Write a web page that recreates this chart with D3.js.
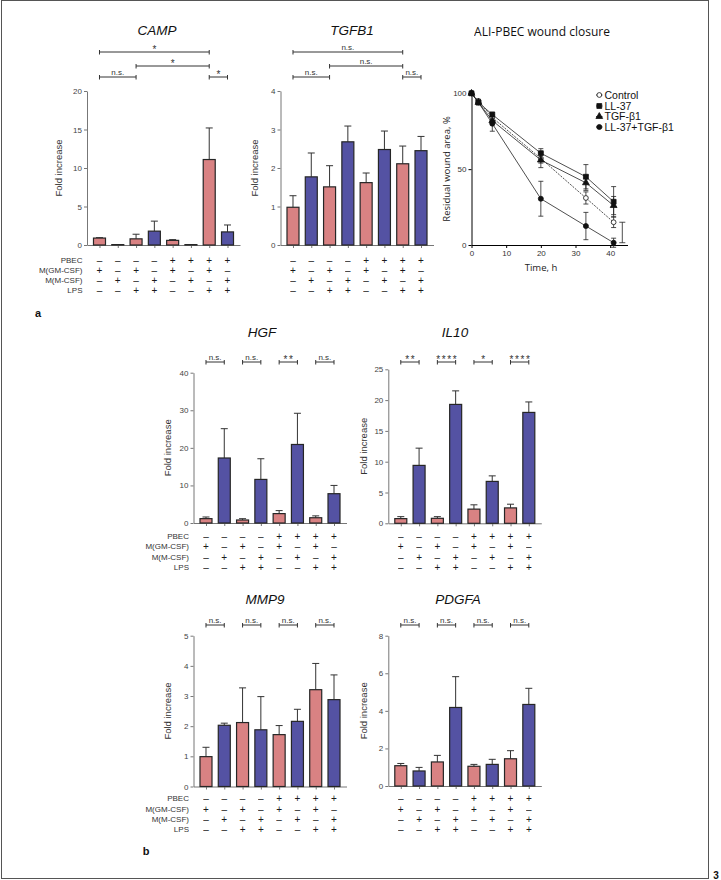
<!DOCTYPE html>
<html>
<head>
<meta charset="utf-8">
<script src="https://cdn.jsdelivr.net/npm/d3@7/dist/d3.min.js"></script>
<style>
html,body{margin:0;padding:0;background:#fff;}
svg{display:block;}
svg text{opacity:0.999;}
</style>
</head>
<body>
<svg id="fig" width="721" height="880"></svg>
<script>
// ---------------- data ----------------
const rowLabels = ["PBEC", "M(GM-CSF)", "M(M-CSF)", "LPS"];
const signPBEC = ["–","–","–","–","+","+","+","+"];
const signGM   = ["+","–","+","–","+","–","+","–"];
const signM    = ["–","+","–","+","–","+","–","+"];
const signLPS  = ["–","–","+","+","–","–","+","+"];
const macrophage = ["GM","M","GM","M","GM","M","GM","M"];

const campMean  = [0.9, 0.05, 0.8, 1.8, 0.6, 0.05, 11.1, 1.7];
const campSD    = [0.05, 0, 0.6, 1.3, 0.1, 0, 4.1, 0.9];
const tgfb1Mean = [0.98, 1.77, 1.51, 2.68, 1.62, 2.48, 2.11, 2.45];
const tgfb1SD   = [0.3, 0.62, 0.55, 0.41, 0.25, 0.48, 0.46, 0.37];
const hgfMean   = [1.16, 17.3, 0.8, 11.6, 2.5, 20.9, 1.4, 7.8];
const hgfSD     = [0.44, 7.8, 0.35, 5.5, 0.8, 8.3, 0.5, 2.2];
const il10Mean  = [0.76, 9.4, 0.81, 19.3, 2.3, 6.8, 2.5, 18.0];
const il10SD    = [0.32, 2.8, 0.27, 2.2, 0.7, 0.9, 0.6, 1.7];
const mmp9Mean  = [0.99, 2.03, 2.12, 1.88, 1.72, 2.16, 3.21, 2.88];
const mmp9SD    = [0.31, 0.07, 1.15, 1.1, 0.3, 0.4, 0.87, 0.82];
const pdgfaMean = [1.08, 0.8, 1.28, 4.18, 1.05, 1.15, 1.45, 4.34];
const pdgfaSD   = [0.12, 0.19, 0.35, 1.64, 0.1, 0.27, 0.43, 0.86];

const campTicks  = [0, 5, 10, 15, 20];
const tgfb1Ticks = [0, 1, 2, 3, 4];
const hgfTicks   = [0, 10, 20, 30, 40];
const il10Ticks  = [0, 5, 10, 15, 20, 25];
const mmp9Ticks  = [0, 1, 2, 3, 4, 5];
const pdgfaTicks = [0, 2, 4, 6, 8];

// significance: [from, to, level]
const sigPairsA = [[0, 6, 0], [2, 6, 1], [0, 2, 2], [6, 7, 2]];
const campSig   = ["*", "*", "n.s.", "*"];
const tgfb1Sig  = ["n.s.", "n.s.", "n.s.", "n.s."];
const sigPairsB = [[0, 1, 0], [2, 3, 0], [4, 5, 0], [6, 7, 0]];
const hgfSig    = ["n.s.", "n.s.", "**", "n.s."];
const il10Sig   = ["**", "****", "*", "****"];
const mmp9Sig   = ["n.s.", "n.s.", "n.s.", "n.s."];
const pdgfaSig  = ["n.s.", "n.s.", "n.s.", "n.s."];

// wound closure
const hours     = [0, 2, 6, 20, 33, 41];
const ctrlMean  = [100, 95, 84, 57, 31, 15];
const ctrlSD    = [0, 1, 2, 3, 4, 3.5];
const ll37Mean  = [100, 94, 86, 60.5, 45, 28.5];
const ll37SD    = [0, 1, 1.5, 3, 8, 10];
const tgfMean   = [100, 94, 82, 56, 41, 26];
const tgfSD     = [0, 1.5, 2, 5, 5, 6];
const comboMean = [100, 94, 80, 30.5, 12.5, 1.5];
const comboSD   = [0, 1.5, 5, 11.5, 9, 3];
const looseBar  = [43.5, 1.5, 15]; // time, low, high
const timeTicks  = [0, 10, 20, 30, 40];
const woundTicks = [0, 50, 100];
const seriesNames = ["Control", "LL-37", "TGF-β1", "LL-37+TGF-β1"];

// ---------------- drawing ----------------
const PINK = "#d98283", BLUE = "#5452a3";
const SANS = "'Liberation Sans', Arial, sans-serif";
const HUM = "'Open Sans', 'Noto Sans', sans-serif";
const svg = d3.select("#fig");

// frame
svg.append("rect").attr("x", 1.5).attr("y", 0.5).attr("width", 707).attr("height", 878)
  .attr("fill", "none").attr("stroke", "#555").attr("stroke-width", 1);
svg.append("text").attr("x", 716).attr("y", 879).attr("text-anchor", "middle")
  .attr("font-family", SANS).attr("font-weight", "bold").attr("font-size", 10).attr("fill", "#111").text("3");
svg.append("text").attr("x", 38).attr("y", 317).attr("text-anchor", "middle")
  .attr("font-family", SANS).attr("font-weight", "bold").attr("font-size", 11).attr("fill", "#111").text("a");
svg.append("text").attr("x", 146).attr("y", 855).attr("text-anchor", "middle")
  .attr("font-family", SANS).attr("font-weight", "bold").attr("font-size", 11).attr("fill", "#111").text("b");

function barPanel(o) {
  const g = svg.append("g");
  const idx = d3.range(o.means.length);
  const x = d3.scalePoint().domain(idx).range([o.axisX, o.axisX + 153]).padding(0.683);
  const y = d3.scaleLinear().domain([0, o.ymax]).range([o.y0, o.yTop]);

  // title
  g.append("text").attr("x", o.titleX).attr("y", o.titleY).attr("text-anchor", "middle")
    .attr("font-family", SANS).attr("font-style", "italic").attr("font-size", 13.5).attr("fill", "#111")
    .text(o.title);

  // y label
  g.append("text").attr("transform", `translate(${o.ylabX},${(o.y0 + o.yTop) / 2}) rotate(-90)`)
    .attr("text-anchor", "middle").attr("dy", "0.35em")
    .attr("font-family", SANS).attr("font-size", 9.5).attr("fill", "#333").text("Fold increase");

  // axes
  const ya = g.append("g").attr("transform", `translate(${o.axisX},0)`)
    .call(d3.axisLeft(y).tickValues(o.ticks).tickFormat(d3.format("d")).tickSize(3).tickSizeOuter(0).tickPadding(2));
  ya.attr("font-family", SANS).attr("font-size", 8);
  ya.select(".domain").attr("stroke", "#777");
  ya.selectAll(".tick line").attr("stroke", "#777");
  ya.selectAll(".tick text").attr("fill", "#444");

  const xa = g.append("g").attr("transform", `translate(0,${o.y0})`)
    .call(d3.axisBottom(x).tickSize(3).tickSizeOuter(0).tickFormat(""));
  xa.select(".domain").attr("stroke", "#777");
  xa.selectAll(".tick line").attr("stroke", "#777");

  // error bars
  const eb = g.append("g").attr("stroke", "#333").attr("stroke-width", 1);
  idx.forEach(i => {
    if (o.sds[i] <= 0) return;
    const yt = y(o.means[i] + o.sds[i]);
    eb.append("line").attr("x1", x(i)).attr("x2", x(i)).attr("y1", y(o.means[i])).attr("y2", yt);
    eb.append("line").attr("x1", x(i) - 3.5).attr("x2", x(i) + 3.5).attr("y1", yt).attr("y2", yt);
  });

  // bars
  g.append("g").selectAll("rect").data(o.means).join("rect")
    .attr("x", (d, i) => x(i) - 6).attr("width", 12)
    .attr("y", d => y(d)).attr("height", d => o.y0 - y(d))
    .attr("fill", (d, i) => macrophage[i] === "GM" ? PINK : BLUE)
    .attr("stroke", "#262626").attr("stroke-width", 1.2);

  // significance brackets
  const sg = g.append("g");
  o.sigPairs.forEach((p, k) => {
    const yy = o.sigY[p[2]];
    const x1 = x(p[0]), x2 = x(p[1]);
    sg.append("path").attr("d", `M${x1},${yy - 2}V${yy + 2.5}M${x1},${yy}H${x2}M${x2},${yy - 2}V${yy + 2.5}`)
      .attr("fill", "none").attr("stroke", "#333").attr("stroke-width", 1);
    const lab = o.sig[k];
    const star = lab.indexOf("*") >= 0;
    sg.append("text").attr("x", (x1 + x2) / 2 + (star ? 0.8 : 0)).attr("y", star ? yy + 0.5 : yy - 2.2)
      .attr("text-anchor", "middle").attr("font-family", SANS)
      .attr("font-size", star ? 10 : 8).attr("letter-spacing", star ? 1.6 : 0).attr("fill", "#333").text(lab);
  });

  // condition signs
  const rows = [signPBEC, signGM, signM, signLPS];
  rows.forEach((r, ri) => {
    const yy = o.rowY[ri];
    g.append("g").selectAll("text").data(r).join("text")
      .attr("x", (d, i) => x(i)).attr("y", yy).attr("dy", "0.35em").attr("text-anchor", "middle")
      .attr("font-family", SANS).attr("font-size", 10).attr("fill", "#1a1a1a").text(d => d);
    if (o.rowLabels) {
      g.append("text").attr("x", x(0) - 17).attr("y", yy).attr("dy", "0.35em").attr("text-anchor", "end")
        .attr("font-family", SANS).attr("font-size", 8).attr("fill", "#333").text(rowLabels[ri]);
    }
  });
}

const rowA = [260, 270.5, 280.5, 290.5];
const rowB1 = [536, 546.5, 557, 567];
const rowB2 = [798.5, 809, 819, 829];

barPanel({ title: "CAMP", titleX: 157, titleY: 35, axisX: 87, y0: 245, yTop: 91, ymax: 20, ticks: campTicks,
  means: campMean, sds: campSD, sigPairs: sigPairsA, sig: campSig, sigY: [52, 66, 77], rowY: rowA, rowLabels: true, ylabX: 59 });
barPanel({ title: "TGFB1", titleX: 352, titleY: 35, axisX: 280.5, y0: 245, yTop: 91, ymax: 4, ticks: tgfb1Ticks,
  means: tgfb1Mean, sds: tgfb1SD, sigPairs: sigPairsA, sig: tgfb1Sig, sigY: [52, 66, 77], rowY: rowA, rowLabels: false, ylabX: 255 });
barPanel({ title: "HGF", titleX: 262, titleY: 337, axisX: 193.5, y0: 523, yTop: 372.7, ymax: 40, ticks: hgfTicks,
  means: hgfMean, sds: hgfSD, sigPairs: sigPairsB, sig: hgfSig, sigY: [362], rowY: rowB1, rowLabels: true, ylabX: 168 });
barPanel({ title: "IL10", titleX: 455, titleY: 337, axisX: 388.3, y0: 523.3, yTop: 369.3, ymax: 25, ticks: il10Ticks,
  means: il10Mean, sds: il10SD, sigPairs: sigPairsB, sig: il10Sig, sigY: [362], rowY: rowB1, rowLabels: false, ylabX: 364 });
barPanel({ title: "MMP9", titleX: 265, titleY: 604, axisX: 193.5, y0: 786.5, yTop: 635.7, ymax: 5, ticks: mmp9Ticks,
  means: mmp9Mean, sds: mmp9SD, sigPairs: sigPairsB, sig: mmp9Sig, sigY: [625], rowY: rowB2, rowLabels: true, ylabX: 168 });
barPanel({ title: "PDGFA", titleX: 458, titleY: 604, axisX: 388.3, y0: 786, yTop: 635.7, ymax: 8, ticks: pdgfaTicks,
  means: pdgfaMean, sds: pdgfaSD, sigPairs: sigPairsB, sig: pdgfaSig, sigY: [625], rowY: rowB2, rowLabels: false, ylabX: 364 });

// ---------------- wound closure line chart ----------------
(function () {
  const g = svg.append("g");
  const x = d3.scaleLinear().domain([0, 45]).range([471.5, 627.5]);
  const y = d3.scaleLinear().domain([0, 100]).range([245, 93.3]);

  g.append("text").attr("x", 542).attr("y", 36).attr("text-anchor", "middle")
    .attr("font-family", HUM).attr("font-size", 12).attr("fill", "#111").text("ALI-PBEC wound closure");
  g.append("text").attr("transform", `translate(447,169) rotate(-90)`).attr("text-anchor", "middle").attr("dy", "0.35em")
    .attr("font-family", HUM).attr("font-size", 9.5).attr("fill", "#222").text("Residual wound area, %");
  g.append("text").attr("x", 541).attr("y", 270.5).attr("text-anchor", "middle")
    .attr("font-family", HUM).attr("font-size", 9.5).attr("fill", "#222").text("Time, h");

  const ya = g.append("g").attr("transform", `translate(${x(0)},0)`)
    .call(d3.axisLeft(y).tickValues(woundTicks).tickSize(3).tickSizeOuter(0).tickPadding(2));
  ya.attr("font-family", SANS).attr("font-size", 8);
  ya.selectAll(".tick text").attr("fill", "#333");
  const xa = g.append("g").attr("transform", `translate(0,${y(0)})`)
    .call(d3.axisBottom(x).tickValues(timeTicks).tickSize(3).tickSizeOuter(0).tickPadding(2));
  xa.attr("font-family", SANS).attr("font-size", 8);
  xa.selectAll(".tick text").attr("fill", "#333");

  const series = [
    { m: ctrlMean, s: ctrlSD, sym: d3.symbolCircle, size: 18, fill: "#fff", dash: "2,1.2" },
    { m: ll37Mean, s: ll37SD, sym: d3.symbolSquare, size: 24, fill: "#111", dash: null },
    { m: tgfMean, s: tgfSD, sym: d3.symbolTriangle, size: 20, fill: "#111", dash: null },
    { m: comboMean, s: comboSD, sym: d3.symbolCircle, size: 20, fill: "#111", dash: null }
  ];
  const line = d3.line().x((d, i) => x(hours[i])).y(d => y(d));
  series.forEach(s => {
    g.append("path").attr("d", line(s.m)).attr("fill", "none").attr("stroke", "#222").attr("stroke-width", 0.8)
      .attr("stroke-dasharray", s.dash);
  });
  series.forEach(s => {
    s.m.forEach((v, i) => {
      if (s.s[i] <= 0) return;
      const xx = x(hours[i]), y1 = y(v - s.s[i]), y2 = y(v + s.s[i]);
      g.append("path").attr("d", `M${xx},${y1}V${y2}M${xx - 2.5},${y1}H${xx + 2.5}M${xx - 2.5},${y2}H${xx + 2.5}`)
        .attr("stroke", "#222").attr("stroke-width", 0.8).attr("fill", "none");
    });
  });
  series.forEach(s => {
    g.append("g").selectAll("path").data(s.m).join("path")
      .attr("transform", (d, i) => `translate(${x(hours[i])},${y(d)})`)
      .attr("d", d3.symbol().type(s.sym).size(s.size))
      .attr("fill", s.fill).attr("stroke", "#111").attr("stroke-width", 0.8);
  });
  // stray error bar
  const lx = x(looseBar[0]), ly1 = y(looseBar[1]), ly2 = y(looseBar[2]);
  g.append("path").attr("d", `M${lx},${ly1}V${ly2}M${lx - 3},${ly1}H${lx + 3}M${lx - 3},${ly2}H${lx + 3}`)
    .attr("stroke", "#222").attr("stroke-width", 0.8).attr("fill", "none");

  // legend
  const legY = [95, 106, 116.5, 127];
  series.forEach((s, i) => {
    g.append("line").attr("x1", 596).attr("x2", 602.5).attr("y1", legY[i]).attr("y2", legY[i])
      .attr("stroke", "#222").attr("stroke-width", 0.8);
    g.append("path").attr("transform", `translate(599.3,${legY[i]})`).attr("d", d3.symbol().type(s.sym).size(s.size))
      .attr("fill", s.fill).attr("stroke", "#111").attr("stroke-width", 0.8);
    g.append("text").attr("x", 604.5).attr("y", legY[i]).attr("dy", "0.35em")
      .attr("font-family", SANS).attr("font-size", 10.5).attr("fill", "#111").text(seriesNames[i]);
  });
})();
</script>
</body>
</html>
